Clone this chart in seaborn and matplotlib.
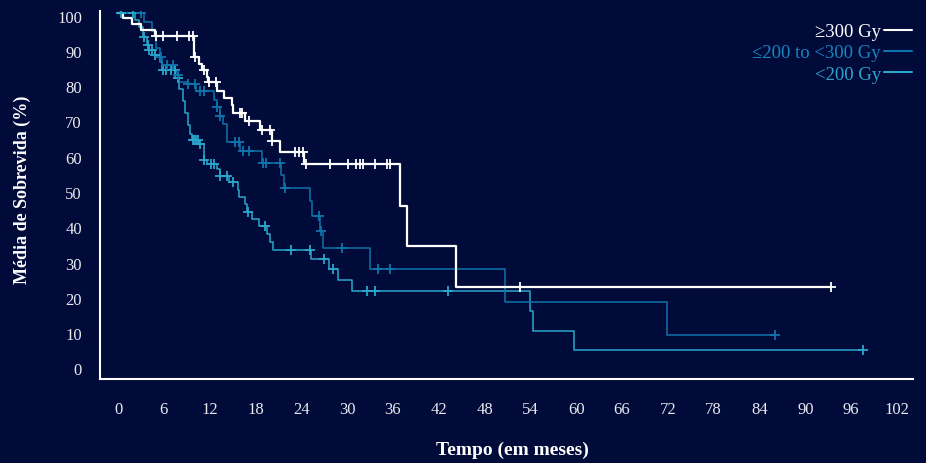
import numpy as np
import pandas as pd
import matplotlib.pyplot as plt
import matplotlib.transforms as mtransforms
import seaborn as sns
from matplotlib.lines import Line2D

# Kaplan-Meier steps (time in months, survival in %)
# >=300 Gy
hi_time = [0, 0.6, 1.8, 3.0, 4.8, 9.9, 10.6, 11.0, 11.6, 11.8, 12.9, 13.9, 14.9, 15.1, 16.6,
           18.6, 20.1, 21.2, 24.3, 36.9, 37.9, 44.2, 93.3]
hi_surv = [100, 98.7, 96.8, 95.1, 93.5, 87.6, 85.7, 83.9, 82.0, 80.4, 78.0, 75.9, 74.0, 71.6, 69.3,
           66.9, 63.7, 60.6, 57.1, 45.3, 33.9, 22.3, 22.3]
hi_cens = [5.0, 5.9, 7.7, 9.3, 9.8, 10.1, 11.2, 11.9, 12.8, 16.0, 16.2, 17.1, 18.9, 19.9, 20.2,
           23.2, 23.7, 24.2, 24.6, 27.7, 30.1, 31.2, 31.7, 32.1, 33.6, 35.2, 35.6, 52.6, 93.3]

# <=200 to <300 Gy
mid_time = [0, 3.4, 4.5, 5.0, 5.5, 5.8, 7.3, 7.6, 8.0, 9.0, 10.2, 12.6, 12.9, 13.3, 13.8, 14.3,
            16.0, 18.8, 21.3, 21.7, 25.2, 25.4, 26.4, 26.8, 33.0, 50.7, 71.9, 86.0]
mid_surv = [100, 97.5, 95.0, 90.0, 87.6, 85.3, 83.9, 82.5, 80.5, 79.8, 77.8, 75.5, 73.5, 70.7, 68.6, 63.6,
            60.8, 57.5, 54.0, 50.3, 46.7, 42.5, 38.3, 33.4, 27.6, 18.0, 8.7, 8.7]
mid_cens = [3.0, 5.6, 6.4, 7.2, 7.8, 9.1, 10.1, 10.7, 11.2, 13.0, 13.4, 15.3, 15.9, 16.4, 17.1,
            19.0, 19.4, 21.2, 21.8, 26.3, 26.6, 29.3, 34.1, 35.6, 86.0]

# <200 Gy
low_time = [0, 2.2, 2.8, 3.3, 3.8, 4.0, 4.8, 5.5, 5.7, 7.5, 8.0, 8.5, 8.8, 9.2, 9.4, 9.7, 10.6,
            11.2, 11.6, 13.0, 13.3, 14.5, 15.7, 15.9, 16.6, 16.9, 17.5, 18.4, 19.5, 19.9, 20.3,
            25.3, 27.6, 28.8, 30.6, 53.9, 54.4, 59.7, 97.5]
low_surv = [100, 98.0, 96.0, 93.3, 91.0, 89.5, 88.0, 86.2, 83.9, 81.5, 78.5, 75.0, 71.7, 68.3, 65.6,
            64.1, 62.9, 58.5, 57.1, 55.7, 53.8, 52.2, 50.0, 47.9, 45.8, 43.7, 41.6, 39.7, 37.3, 35.0,
            32.8, 30.3, 27.4, 24.3, 21.2, 15.5, 10.0, 4.6, 4.6]
low_cens = [0.4, 2.0, 3.4, 3.9, 4.1, 4.4, 4.9, 5.9, 6.3, 7.0, 7.4, 7.8, 9.8, 10.0, 10.2, 10.5, 10.8,
            11.3, 12.2, 12.6, 13.4, 14.3, 15.1, 17.0, 19.2, 22.6, 25.2, 27.0, 28.1, 32.6, 33.6,
            43.2, 97.5]

labels = ["≥300 Gy", "≤200 to <300 Gy", "<200 Gy"]
colors = ["#ffffff", "#0f74ab", "#2aa6cc"]
text_colors = ["#ffffff", "#1884c0", "#2ea4cc"]
x_ticks = list(range(0, 103, 6))
y_ticks = list(range(0, 101, 10))

bg = "#000b39"


def step_value(times, surv, t):
    i = np.searchsorted(times, t, side="right") - 1
    return np.asarray(surv)[i]


sns.set_style("white", {"axes.facecolor": bg, "figure.facecolor": bg})
plt.rcParams["font.family"] = ["Liberation Serif", "DejaVu Serif"]

fig = plt.figure(figsize=(9.26, 4.64), dpi=100)
ax = fig.add_axes([100 / 926, 1 - 380 / 464, 813 / 926, 368 / 464])

groups = [(low_time, low_surv, low_cens, 2, 1.1),
          (mid_time, mid_surv, mid_cens, 1, 1.1),
          (hi_time, hi_surv, hi_cens, 0, 1.6)]
for times, surv, cens, k, lw in groups:
    df = pd.DataFrame({"t": times, "s": surv})
    sns.lineplot(data=df, x="t", y="s", ax=ax, color=colors[k], linewidth=lw,
                 drawstyle="steps-post", estimator=None, sort=False)
    cdf = pd.DataFrame({"t": cens, "s": step_value(times, surv, cens)})
    sns.scatterplot(data=cdf, x="t", y="s", ax=ax, marker="+", s=55,
                    color=colors[k], linewidth=1.3, zorder=3)

ax.set_xlim(-2.36, 104.1)
ax.set_ylim(-3.7, 100.6)
ax.set_xticks(x_ticks)
ax.set_yticks(y_ticks)
ax.tick_params(axis="both", length=0, labelsize=12, labelcolor="#e8e8ee")
ax.tick_params(axis="x", pad=16)
ax.tick_params(axis="y", pad=13)

# y tick labels sit a couple of pixels below their gridline in the original
shift = mtransforms.ScaledTranslation(0, -2.5 / 100, fig.dpi_scale_trans)
for lab in ax.get_yticklabels():
    lab.set_transform(lab.get_transform() + shift)

for side in ["top", "right"]:
    ax.spines[side].set_visible(False)
for side in ["left", "bottom"]:
    ax.spines[side].set_color("#ffffff")
    ax.spines[side].set_linewidth(1.5)

ax.set_xlabel("Tempo (em meses)", fontsize=14, fontweight="bold", color="#ffffff")
ax.set_ylabel("Média de Sobrevida (%)", fontsize=13, fontweight="bold", color="#ffffff")
ax.xaxis.set_label_coords(0.507, -0.168)
ax.yaxis.set_label_coords(-0.085, 0.516)

handles = [Line2D([0], [0], color=c, linewidth=1.5) for c in colors]
leg = ax.legend(handles, labels, loc="upper right", bbox_to_anchor=(912 / 926, 1 - 24 / 464),
                bbox_transform=fig.transFigure, frameon=False, markerfirst=False,
                fontsize=13.5, handlelength=1.5, handletextpad=0.15, labelspacing=0.22,
                borderpad=0, borderaxespad=0, labelcolor=text_colors)

fig.savefig("out.png", dpi=100, facecolor=bg)
